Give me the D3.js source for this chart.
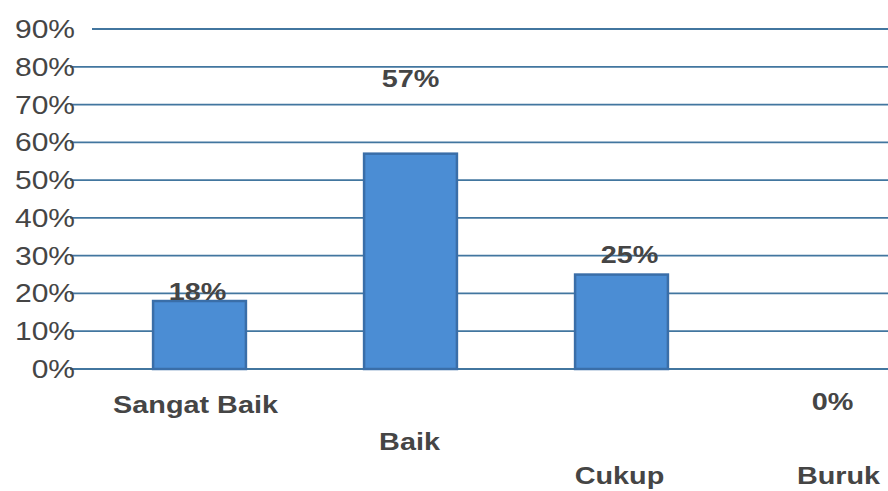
<!DOCTYPE html>
<html>
<head>
<meta charset="utf-8">
<script src="https://cdn.jsdelivr.net/npm/d3@7"></script>
<style>
  body { margin: 0; background: #fff; }
  svg { display: block; }
  text { font-family: "Liberation Sans", Arial, sans-serif; fill: #454545; }
  .tick-label { font-size: 25px; }
  .value-label, .cat-label { font-size: 24px; font-weight: bold; }
</style>
</head>
<body>
<div id="chart"></div>
<script>
// data
var categories = ["Sangat Baik", "Baik", "Cukup", "Buruk"];
var values = [18, 57, 25, 0];
var tickValues = [0, 10, 20, 30, 40, 50, 60, 70, 80, 90];

// label placement (dragged around in the original)
var valueLabelShift = [[-2, -1], [0, -67], [8, -12], [0, 41]];
var catLabelShift = [[-4, 44], [-1, 81], [-2, 115], [6, 115]];

var width = 888, height = 491;
var stretch = 1.2; // scan is stretched sideways

var svg = d3.select("#chart")
  .append("svg")
  .attr("width", width)
  .attr("height", height);

var yScale = d3.scaleLinear()
  .domain([0, 90])
  .range([369, 29]);

var xScale = d3.scaleBand()
  .domain(categories)
  .range([94, 938])
  .paddingInner(0.56)
  .paddingOuter(0.28);

// grid lines
svg.append("g")
  .attr("class", "grid")
  .selectAll("line")
  .data(tickValues)
  .enter()
    .append("line")
    .attr("x1", d => d == 90 ? 92 : 70)
    .attr("x2", width)
    .attr("y1", d => yScale(d))
    .attr("y2", d => yScale(d))
    .attr("stroke", "#42769f")
    .attr("stroke-width", 1.8);

// y tick labels
svg.append("g")
  .attr("class", "y-labels")
  .selectAll("text")
  .data(tickValues)
  .enter()
    .append("text")
    .attr("class", "tick-label")
    .attr("transform", d => `translate(${75},${yScale(d) + 9}) scale(${stretch},1)`)
    .attr("text-anchor", "end")
    .text(d => d + "%");

// bars
svg.append("g")
  .attr("class", "bars")
  .selectAll("rect")
  .data(values)
  .enter()
    .append("rect")
    .attr("x", (d, i) => xScale(categories[i]))
    .attr("y", d => yScale(d))
    .attr("width", xScale.bandwidth())
    .attr("height", d => yScale(0) - yScale(d))
    .attr("fill", d => d > 0 ? "#4b8dd4" : "none")
    .attr("stroke", d => d > 0 ? "#3a6ea8" : "none")
    .attr("stroke-width", 2.5);

// value labels
svg.append("g")
  .attr("class", "value-labels")
  .selectAll("text")
  .data(values)
  .enter()
    .append("text")
    .attr("class", "value-label")
    .attr("text-anchor", "middle")
    .attr("transform", (d, i) => {
      var x = xScale(categories[i]) + xScale.bandwidth() / 2 + valueLabelShift[i][0];
      var y = yScale(d) + valueLabelShift[i][1];
      return `translate(${x},${y}) scale(${stretch},1)`;
    })
    .text(d => d + "%");

// category labels
svg.append("g")
  .attr("class", "cat-labels")
  .selectAll("text")
  .data(categories)
  .enter()
    .append("text")
    .attr("class", "cat-label")
    .attr("text-anchor", "middle")
    .attr("transform", (d, i) => {
      var x = xScale(d) + xScale.bandwidth() / 2 + catLabelShift[i][0];
      var y = yScale(0) + catLabelShift[i][1];
      return `translate(${x},${y}) scale(${stretch},1)`;
    })
    .text(d => d);
</script>
</body>
</html>
